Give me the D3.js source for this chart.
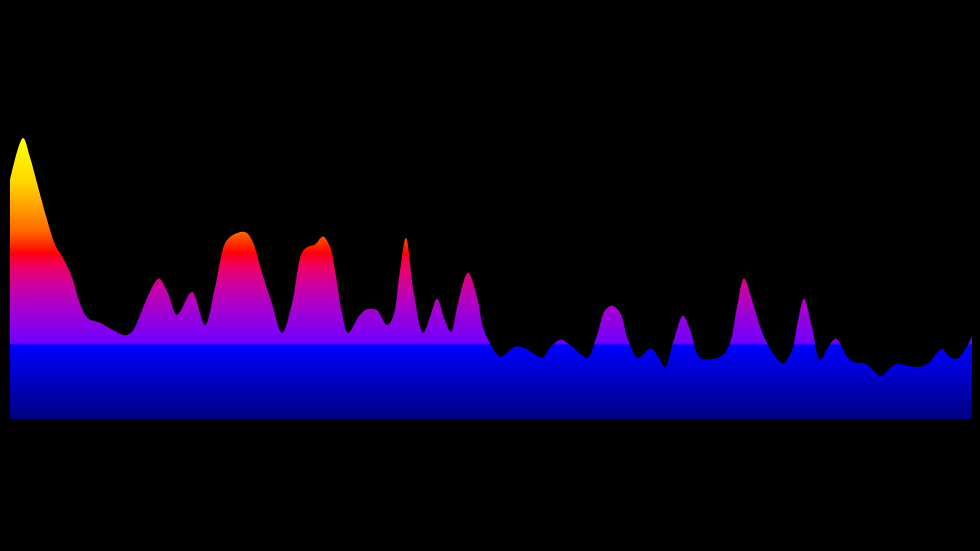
<!DOCTYPE html>
<html>
<head>
<meta charset="utf-8">
<script src="https://cdn.jsdelivr.net/npm/d3@7"></script>
<style>
  html, body { margin:0; padding:0; background:#000; }
  svg { display:block; }
</style>
</head>
<body>
<svg id="chart" width="980" height="551"></svg>
<script>
// frequency bin positions and levels (0-255)
var bins = [0,13,20,28,37,45,53,62,70,78,90,102,115,122,132,142,149,158,167,182,195,205,215,222,235,242,252,262,272,282,292,298,305,313,320,325,332,338,350,358,367,377,383,390,396,403,413,420,427,435,441,448,458,467,473,480,490,505,513,523,532,542,551,562,577,587,595,602,610,618,628,638,642,648,655,663,673,680,690,702,712,720,727,734,742,752,763,773,782,788,794,802,810,818,826,837,845,855,863,871,880,888,898,910,918,932,938,947,955,962];
var levels = [211,248,231,205,176,154,142,125,102,89,85,79,74,77,96,116,124,111,92,112,83,116,155,162,165,158,129,102,76,102,147,152,154,161,152,131,94,76,92,97,96,83,90,131,160,116,76,90,106,87,77,102,129,108,81,67,55,64,63,58,54,65,70,64,54,74,96,100,94,70,54,61,62,55,46,67,91,79,54,53,56,67,99,124,105,77,58,49,61,87,106,81,52,63,71,55,50,49,43,38,45,49,47,46,49,62,56,53,61,73];

// colour stops along the level axis
var stopLevels = [0, 65, 67, 90, 115, 135, 146, 152, 165, 185, 210, 245];
var stopColors = ["#000080", "#0000ff", "#7000ff", "#9800dd", "#c800a8", "#f00060", "#ff0010", "#ff2000", "#ff6600", "#ff9a00", "#ffd800", "#ffff00"];

(function () {
    "use strict";

    var svg = d3.select("#chart");
    svg.append("rect").attr("width", 980).attr("height", 551).attr("fill", "#000");

    var x = d3.scaleLinear().domain([0, 962]).range([10, 972]);
    var y = d3.scaleLinear().domain([0, 255]).range([419, 130]);

    var grad = svg.append("defs").append("linearGradient")
        .attr("id", "spec")
        .attr("gradientUnits", "userSpaceOnUse")
        .attr("x1", 0).attr("x2", 0)
        .attr("y1", y(0)).attr("y2", y(255));

    grad.selectAll("stop").data(stopLevels).enter().append("stop")
        .attr("offset", function (d) { return d / 255; })
        .attr("stop-color", function (d, i) { return stopColors[i]; });

    var data = bins.map(function (b, i) { return { bin: b, level: levels[i] }; });

    var area = d3.area()
        .x(function (d) { return x(d.bin); })
        .y0(y(0))
        .y1(function (d) { return y(d.level); })
        .curve(d3.curveCatmullRom.alpha(0.5));

    svg.append("path")
        .datum(data)
        .attr("d", area)
        .attr("fill", "url(#spec)");
})();
</script>
</body>
</html>
